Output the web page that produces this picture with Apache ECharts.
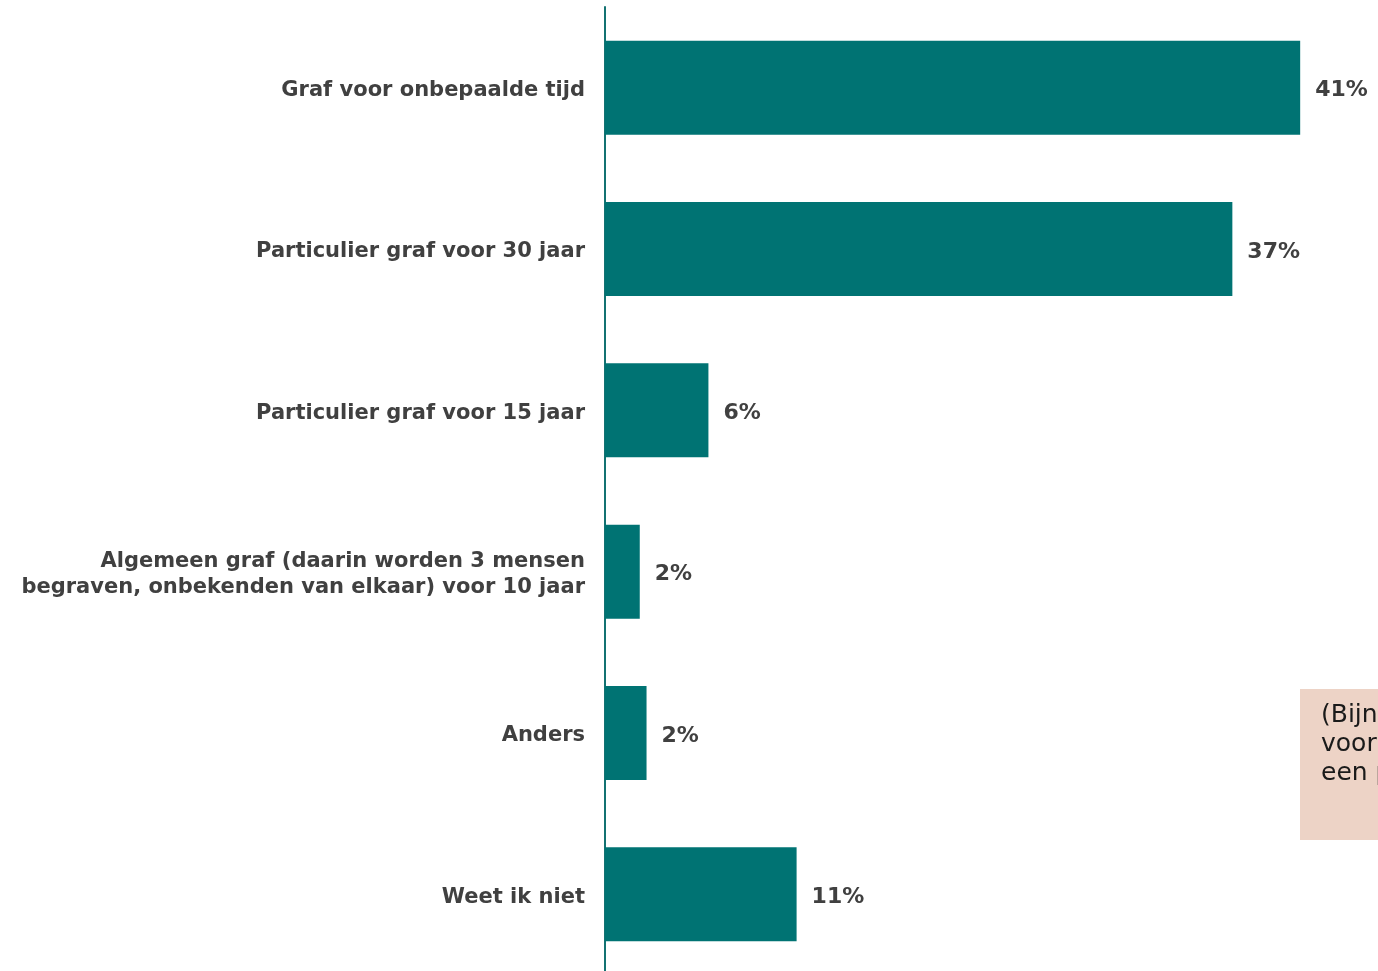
<!DOCTYPE html>
<html><head><meta charset="utf-8">
<script src="https://cdn.jsdelivr.net/npm/echarts@6/dist/echarts.min.js"></script>
<style>html,body{margin:0;padding:0;background:#fff}#c{width:1378px;height:971px}</style>
</head><body><div id="c"></div>
<script>
const categories = [
  "Graf voor onbepaalde tijd",
  "Particulier graf voor 30 jaar",
  "Particulier graf voor 15 jaar",
  "Algemeen graf (daarin worden 3 mensen\nbegraven, onbekenden van elkaar) voor 10 jaar",
  "Anders",
  "Weet ik niet"
];
const values = [41, 37, 6.1, 2.05, 2.45, 11.3];
const noteLines = ["(Bijna", "voorkeur", "een particulier"];

const chart = echarts.init(document.getElementById('c'));
chart.setOption({
  animation: false,
  grid: {left: 605, width: 763, top: 7, height: 968, containLabel: false, outerBoundsMode: 'none'},
  xAxis: {type: 'value', min: 0, max: 45, show: false},
  yAxis: {
    type: 'category', data: categories, inverse: true,
    axisLine: {show: true, lineStyle: {color: '#137272', width: 2}},
    axisTick: {show: false},
    axisLabel: {
      margin: 20, color: '#404040', fontFamily: 'DejaVu Sans', fontWeight: 'bold',
      fontSize: 21, align: 'right', lineHeight: 26,
      formatter: v => v.split('\n').map(s => '{a|' + s + '}').join('\n'),
      rich: {a: {fontFamily: 'DejaVu Sans', fontWeight: 'bold', fontSize: 21, color: '#404040',
        lineHeight: 26, padding: [6, 0, 0, 0], align: 'right'}}
    }
  },
  series: [{
    type: 'bar', data: values, barWidth: 94,
    itemStyle: {color: '#007373'},
    label: {
      show: true, position: 'right', distance: 15, offset: [0, 3],
      color: '#404040', fontFamily: 'DejaVu Sans', fontWeight: 'bold', fontSize: 22,
      formatter: p => Math.round(p.value) + '%'
    }
  }],
  graphic: [{
    type: 'group', left: 1300, top: 689,
    children: [
      {type: 'rect', shape: {x: 0, y: 0, width: 200, height: 151}, style: {fill: '#EDD3C6'}},
      {type: 'text', x: 21, y: 12, style: {text: noteLines.join('\n'), fill: '#1a1a1a',
        fontFamily: 'DejaVu Sans', fontSize: 25, lineHeight: 29}}
    ]
  }]
});
</script></body></html>
